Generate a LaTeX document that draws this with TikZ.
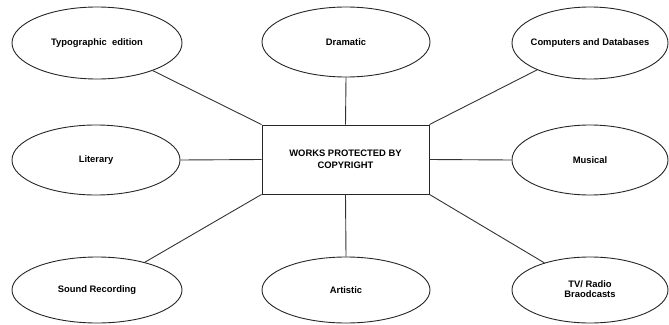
\documentclass[tikz,border=0pt]{standalone}
\usepackage{fontspec}
\setmainfont{Liberation Sans}
\usetikzlibrary{shapes.geometric}
\tikzset{
  oval/.style={ellipse, draw=black!85, line width=0.9pt, inner sep=0pt, font=\bfseries\fontsize{9.4}{11}\selectfont},
  hub/.style={rectangle, draw=black!85, line width=0.9pt, inner sep=0pt, minimum width=167pt, minimum height=69pt, align=center, font=\bfseries\fontsize{9.4}{12}\selectfont},
  link/.style={draw=black!80, line width=0.9pt}
}
\newcommand{\ctext}[1]{\makebox[0pt]{#1}}
\begin{document}
\begin{tikzpicture}[x=1pt,y=-1pt]
\useasboundingbox (0,0) rectangle (669,324);
\node[hub] (c) at (345.5,159.5) {WORKS PROTECTED BY\\COPYRIGHT};
\node[oval, minimum width=170pt, minimum height=72pt] (typo) at (97,43) {\ctext{Typographic~ edition}};
\node[oval, minimum width=168pt, minimum height=70pt] (dram) at (346,42) {\ctext{Dramatic}};
\node[oval, minimum width=156pt, minimum height=72pt] (comp) at (590,43) {\ctext{Computers and Databases}};
\node[oval, minimum width=168pt, minimum height=70pt] (lit) at (96,160) {\ctext{Literary}};
\node[oval, minimum width=156pt, minimum height=70pt] (mus) at (590,160) {\ctext{Musical}};
\node[oval, minimum width=170pt, minimum height=66pt] (sound) at (97,290) {\ctext{Sound Recording}};
\node[oval, minimum width=168pt, minimum height=66pt] (art) at (346,290) {\ctext{Artistic}};
\node[oval, minimum width=156pt, minimum height=66pt] (tv) at (590,290) {\ctext{\begin{tabular}{@{}c@{}}TV/ Radio\\[-1pt]Braodcasts\end{tabular}}};
\draw[link] (c.north west) -- (typo);
\draw[link] (c.north) -- (dram.south);
\draw[link] (c.north east) -- (comp);
\draw[link] (c.west) -- (lit.east);
\draw[link] (c.east) -- (mus.west);
\draw[link] (c.south west) -- (sound);
\draw[link] (c.south) -- (art.north);
\draw[link] (c.south east) -- (tv);
\end{tikzpicture}
\end{document}
